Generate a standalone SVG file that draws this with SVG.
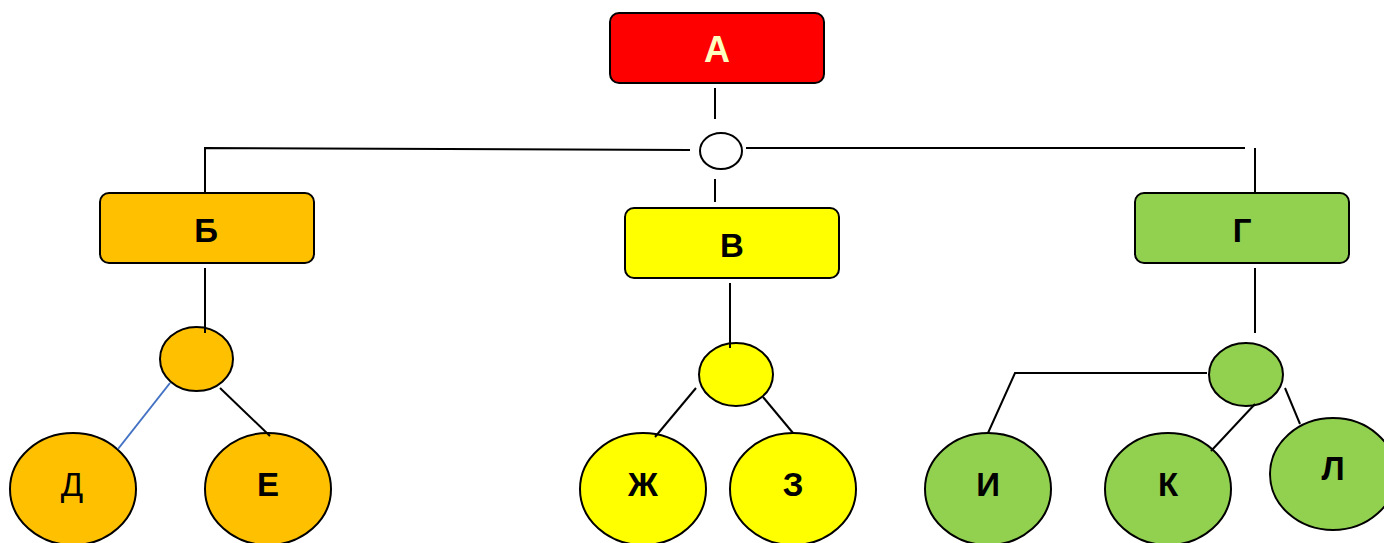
<svg xmlns="http://www.w3.org/2000/svg" width="1384" height="543" viewBox="0 0 1384 543">
<style>
.box{stroke:#000;stroke-width:2}
.lbl{font-family:"Liberation Sans",Arial,sans-serif;font-weight:bold;font-size:33px;text-anchor:middle;fill:#000}
.conn line, .conn polyline{stroke:#000;stroke-width:2;fill:none}
.orange{fill:#FFC000}.yellow{fill:#FFFF00}.green{fill:#92D050}
</style>
<rect width="1384" height="543" fill="#fff"/>
<g id="node-A"><rect class="box" x="610" y="13" width="214" height="70" rx="9" fill="#FF0000"/><text class="lbl" x="717" y="62" style="fill:#FFFFC0;font-size:36px">А</text></g>
<g id="junction-top"><ellipse class="box" cx="721" cy="151" rx="21" ry="18" fill="#fff"/></g>
<g id="node-B"><rect class="box orange" x="100" y="193" width="214" height="70" rx="9"/><text class="lbl" x="206" y="242">Б</text></g>
<g id="node-V"><rect class="box yellow" x="625" y="208" width="214" height="70" rx="9"/><text class="lbl" x="732" y="257">В</text></g>
<g id="node-G"><rect class="box green" x="1135" y="193" width="214" height="70" rx="9"/><text class="lbl" x="1242" y="242">Г</text></g>
<g id="junction-B"><ellipse class="box orange" cx="196.5" cy="359" rx="36.5" ry="32"/></g>
<g id="junction-V"><ellipse class="box yellow" cx="736" cy="374.5" rx="37" ry="31.5"/></g>
<g id="junction-G"><ellipse class="box green" cx="1246" cy="374.5" rx="37" ry="31.5"/></g>
<g id="node-D"><ellipse class="box orange" cx="73" cy="489" rx="63" ry="56"/><text class="lbl" x="72" y="496" style="font-weight:normal">Д</text></g>
<g id="node-E"><ellipse class="box orange" cx="268" cy="489" rx="63" ry="56"/><text class="lbl" x="268" y="496">Е</text></g>
<g id="node-Zh"><ellipse class="box yellow" cx="643" cy="489" rx="63" ry="56"/><text class="lbl" x="643" y="496">Ж</text></g>
<g id="node-Z"><ellipse class="box yellow" cx="793" cy="489" rx="63" ry="56"/><text class="lbl" x="793" y="496">З</text></g>
<g id="node-I"><ellipse class="box green" cx="988" cy="489" rx="63" ry="56"/><text class="lbl" x="988" y="496">И</text></g>
<g id="node-K"><ellipse class="box green" cx="1168" cy="489" rx="63" ry="56"/><text class="lbl" x="1168" y="496">К</text></g>
<g id="node-L"><ellipse class="box green" cx="1333" cy="474" rx="63" ry="56"/><text class="lbl" x="1333" y="480">Л</text></g>
<g class="conn" id="connectors">
<line x1="715" y1="88" x2="715" y2="119"/>
<line x1="715" y1="179" x2="715" y2="202"/>
<polyline points="690,150 205,148 205,192"/>
<line x1="746" y1="148" x2="1245" y2="148"/>
<line x1="1255" y1="148" x2="1255" y2="192"/>
<line x1="205" y1="268" x2="205" y2="333"/>
<line x1="170" y1="383" x2="118" y2="449" style="stroke:#4472C4"/>
<line x1="220" y1="388" x2="270" y2="436"/>
<line x1="730" y1="283" x2="730" y2="348"/>
<line x1="696" y1="388" x2="655" y2="437"/>
<line x1="763" y1="397" x2="793" y2="433"/>
<line x1="1255" y1="268" x2="1255" y2="333"/>
<polyline points="1207,373 1015,373 988,433"/>
<line x1="1255" y1="404" x2="1211" y2="451"/>
<line x1="1285" y1="388" x2="1300" y2="424"/>
</g>
</svg>
